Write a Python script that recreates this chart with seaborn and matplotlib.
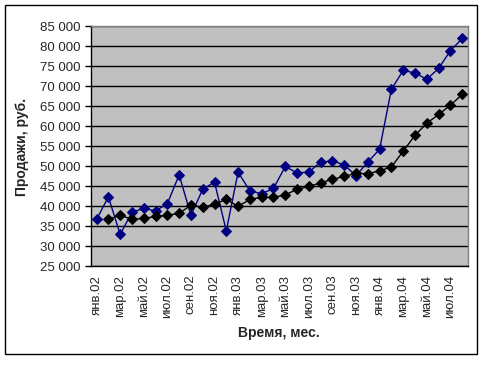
import numpy as np
import pandas as pd
import matplotlib
matplotlib.use("Agg")
import matplotlib.pyplot as plt
import seaborn as sns
from matplotlib.patches import Rectangle
from matplotlib.ticker import FuncFormatter, MultipleLocator

# ---- Data ----
months = ["янв", "фев", "мар", "апр", "май", "июн",
          "июл", "авг", "сен", "окт", "ноя", "дек"]
years = ["02", "03", "04"]
periods = [f"{m}.{y}" for y in years for m in months][:32]   # янв.02 .. авг.04

sales = [36800, 42400, 33000, 38600, 39500, 38900, 40700, 47900,
         37800, 44300, 46100, 33900, 48600, 43900, 43200, 44500,
         50000, 48400, 48600, 51100, 51400, 50400, 47700, 51100,
         54300, 69300, 74000, 73400, 71800, 74500, 78900, 82000]

trend = [np.nan, 36800, 37800, 36800, 37000, 37500, 37800, 38300,
         40300, 39800, 40600, 41800, 40000, 41800, 42300, 42300,
         42900, 44300, 45000, 45900, 46800, 47500, 48300, 48200,
         48900, 49900, 53800, 57800, 60800, 63000, 65300, 68000]

df = pd.DataFrame({"idx": range(len(periods)), "period": periods,
                   "sales": sales, "trend": trend})

sns.set_style("white")
plt.rcParams["font.family"] = ["Liberation Sans", "DejaVu Sans"]

fig = plt.figure(figsize=(4.89, 3.65), dpi=100)
ax = fig.add_axes([0.1855, 0.2699, 0.7716, 0.6575])
ax.set_facecolor("#c0c0c0")

sns.lineplot(data=df, x="idx", y="sales", ax=ax, color="#000080",
             marker="D", markersize=5, markeredgecolor="#000080",
             linewidth=1, zorder=3)
sns.lineplot(data=df.dropna(), x="idx", y="trend", ax=ax, color="black",
             marker="D", markersize=5, markeredgecolor="black",
             linewidth=1, zorder=3)

ax.set_xlim(-0.5, len(periods) - 0.5)
ax.set_ylim(25000, 85000)

# y axis
ax.yaxis.set_major_locator(MultipleLocator(5000))
ax.yaxis.set_major_formatter(FuncFormatter(lambda v, p: f"{int(v):,}".replace(",", " ")))
ax.grid(axis="y", color="black", linewidth=1)
ax.grid(axis="x", visible=False)
ax.set_axisbelow(True)

# x axis: labels every second month, ticks between pairs
ax.set_xticks(df["idx"][::2])
ax.set_xticklabels(df["period"][::2], rotation=90)
ax.set_xticks(np.arange(-0.5, len(periods), 2), minor=True)
ax.tick_params(axis="x", which="major", length=0, pad=6, labelsize=9.5)
ax.tick_params(axis="x", which="minor", length=4, color="black", width=1)
ax.tick_params(axis="y", length=4, color="black", width=1, labelsize=9.5, pad=3, left=True)

for s in ["top", "right"]:
    ax.spines[s].set_color("#808080")
for s in ["left", "bottom"]:
    ax.spines[s].set_color("black")
for s in ax.spines.values():
    s.set_linewidth(1)

ax.set_xlabel("Время, мес.", fontsize=10, fontweight="bold", labelpad=6)
ax.set_ylabel("Продажи, руб.", fontsize=10, fontweight="bold", labelpad=8)

# chart frame
fig.patches.append(Rectangle((5 / 489, 11 / 365), 472 / 489, 349 / 365,
                             transform=fig.transFigure, fill=False,
                             edgecolor="black", linewidth=1))

fig.savefig("out.png", dpi=100)
